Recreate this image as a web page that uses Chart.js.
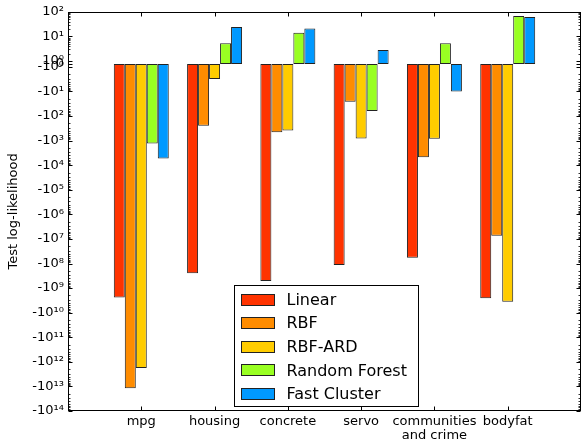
<!DOCTYPE html>
<html><head><meta charset="utf-8">
<script src="https://cdn.jsdelivr.net/npm/chart.js@4.4.1/dist/chart.umd.min.js"></script>
<style>html,body{margin:0;padding:0;background:#fff}canvas{display:block}</style>
</head><body>
<canvas id="c" width="584" height="447"></canvas>
<script>
// ---- data ----
const categories = ['mpg', 'housing', 'concrete', 'servo', ['communities', 'and crime'], 'bodyfat'];
const seriesNames = ['Linear', 'RBF', 'RBF-ARD', 'Random Forest', 'Fast Cluster'];
const linearVals = [-2.4e9, -2.5e8, -5.1e8, -1.15e8, -5.8e7, -2.6e9];
const rbfVals = [-1.2e13, -250, -460, -26, -4.8e3, -7.5e6];
const rbfArdVals = [-1.8e12, -3.1, -390, -830, -850, -3.6e9];
const randomForestVals = [-1.3e3, 5.2, 14, -63, 5.2, 67];
const fastClusterVals = [-5.3e3, 24, 21, 2.8, -10, 61];
const yTickValues = [100, 10, 1, 0, -1, -10, -100, -1e3, -1e4, -1e5, -1e6, -1e7, -1e8, -1e9, -1e10, -1e11, -1e12, -1e13, -1e14];
const seriesColors = ['#ff3300', '#ff8c00', '#ffcc00', '#99ff22', '#0099ff'];

const FONT = 'DejaVu Sans';
const LIN = 0.12; // half-width of linear region, in decades

function symlog(v) { const a = Math.abs(v); return a <= 1 ? v * LIN : Math.sign(v) * (LIN + Math.log10(a)); }
function symexp(t) { const a = Math.abs(t); return a <= LIN ? t / LIN : Math.sign(t) * Math.pow(10, a - LIN); }

class SymLogScale extends Chart.LinearScale {
  static id = 'symlog';
  buildTicks() { return yTickValues.slice().sort((a, b) => a - b).map(v => ({ value: v })); }
  getPixelForValue(v) {
    if (v === null || v === undefined || isNaN(v)) return NaN;
    const t0 = symlog(this.min), t1 = symlog(this.max);
    return this.getPixelForDecimal((symlog(v) - t0) / (t1 - t0));
  }
  getValueForPixel(p) {
    const t0 = symlog(this.min), t1 = symlog(this.max);
    return symexp(t0 + this.getDecimalForPixel(p) * (t1 - t0));
  }
}
Chart.register(SymLogScale);

const SUP = '⁰¹²³⁴⁵⁶⁷⁸⁹';
function fmt(v) {
  if (v === 0) return '0';
  const e = Math.round(Math.log10(Math.abs(v)));
  const s = String(e).split('').map(d => SUP[+d]).join('');
  return (v < 0 ? '-' : '') + '10' + s;
}

const framePlugin = {
  id: 'frame',
  afterDatasetsDraw(chart) {
    const { ctx, chartArea: a, scales: { x, y } } = chart;
    ctx.save();
    ctx.strokeStyle = '#000';
    ctx.lineWidth = 1;
    const L = Math.round(a.left) + 0.5, R = Math.round(a.right) - 0.5;
    const T = Math.round(a.top) + 0.5, B = Math.round(a.bottom) - 0.5;
    ctx.beginPath();
    // major y ticks
    y.ticks.forEach(t => {
      const p = Math.round(y.getPixelForValue(t.value)) + 0.5;
      ctx.moveTo(L, p); ctx.lineTo(L + 4, p);
      ctx.moveTo(R, p); ctx.lineTo(R - 4, p);
    });
    // x ticks
    for (let i = 1; i <= categories.length; i++) {
      const p = Math.round(x.getPixelForTick(i)) + 0.5;
      ctx.moveTo(p, B); ctx.lineTo(p, B - 4);
      ctx.moveTo(p, T); ctx.lineTo(p, T + 4);
    }
    ctx.stroke();
    // minor y ticks
    ctx.beginPath();
    ctx.strokeStyle = '#333';
    const minor = [];
    for (let e = 0; e <= 1; e++) for (let k = 2; k <= 9; k++) minor.push(k * Math.pow(10, e));
    for (let e = 0; e <= 13; e++) for (let k = 2; k <= 9; k++) minor.push(-k * Math.pow(10, e));
    minor.forEach(v => {
      const p = Math.round(y.getPixelForValue(v)) + 0.5;
      ctx.moveTo(L, p); ctx.lineTo(L + 2, p);
      ctx.moveTo(R, p); ctx.lineTo(R - 2, p);
    });
    ctx.stroke();
    // frame
    ctx.strokeStyle = '#000';
    ctx.strokeRect(L, T, R - L, B - T);

    // legend
    const lx = Math.round(a.left + 166) + 0.5, ly = Math.round(a.top + 273) + 0.5;
    const lw = 184, lh = 121;
    ctx.fillStyle = '#fff';
    ctx.fillRect(lx, ly, lw, lh);
    ctx.strokeRect(lx, ly, lw, lh);
    ctx.font = '16px "' + FONT + '"';
    ctx.textBaseline = 'alphabetic';
    ctx.textAlign = 'left';
    seriesNames.forEach((n, i) => {
      const cy = ly + 13.5 + i * 23.6;
      ctx.fillStyle = seriesColors[i];
      ctx.fillRect(lx + 7, Math.round(cy - 5.5) + 0.5, 33, 11);
      ctx.strokeStyle = '#222';
      ctx.strokeRect(lx + 7, Math.round(cy - 5.5) + 0.5, 33, 11);
      ctx.fillStyle = '#000';
      ctx.fillText(n, lx + 52, cy + 5.8);
    });
    ctx.restore();
  }
};

const seriesData = [linearVals, rbfVals, rbfArdVals, randomForestVals, fastClusterVals];

new Chart(document.getElementById('c'), {
  type: 'bar',
  data: {
    labels: [''].concat(categories, ['']),
    datasets: seriesNames.map((n, i) => ({
      label: n,
      data: [null].concat(seriesData[i], [null]),
      backgroundColor: seriesColors[i],
      borderColor: '#222',
      borderWidth: 1,
      borderSkipped: false,
      categoryPercentage: 0.75,
      barPercentage: 1
    }))
  },
  options: {
    responsive: false,
    animation: false,
    devicePixelRatio: 1,
    layout: { padding: { top: 9, right: 1, left: 0, bottom: 0 } },
    plugins: { legend: { display: false }, tooltip: { enabled: false } },
    scales: {
      x: {
        type: 'category',
        offset: false,
        grid: { display: false, drawTicks: false },
        border: { display: false },
        ticks: { autoSkip: false, maxRotation: 0, minRotation: 0, color: '#000', padding: 3,
                 font: { family: FONT, size: 13, lineHeight: 1.1 } },
        afterFit(s) { s.height = 36; }
      },
      y: {
        type: 'symlog',
        min: -1e14,
        max: 100,
        grid: { display: false, drawTicks: false },
        border: { display: false },
        ticks: { autoSkip: false, color: '#000', padding: 4,
                 font: { family: FONT, size: 13 }, callback: v => fmt(v) },
        title: { display: true, text: 'Test log-likelihood', color: '#000',
                 font: { family: FONT, size: 13 }, padding: { top: 6, bottom: 0 } },
        afterFit(s) { s.width = 68; }
      }
    }
  },
  plugins: [framePlugin]
});
</script>
</body></html>
